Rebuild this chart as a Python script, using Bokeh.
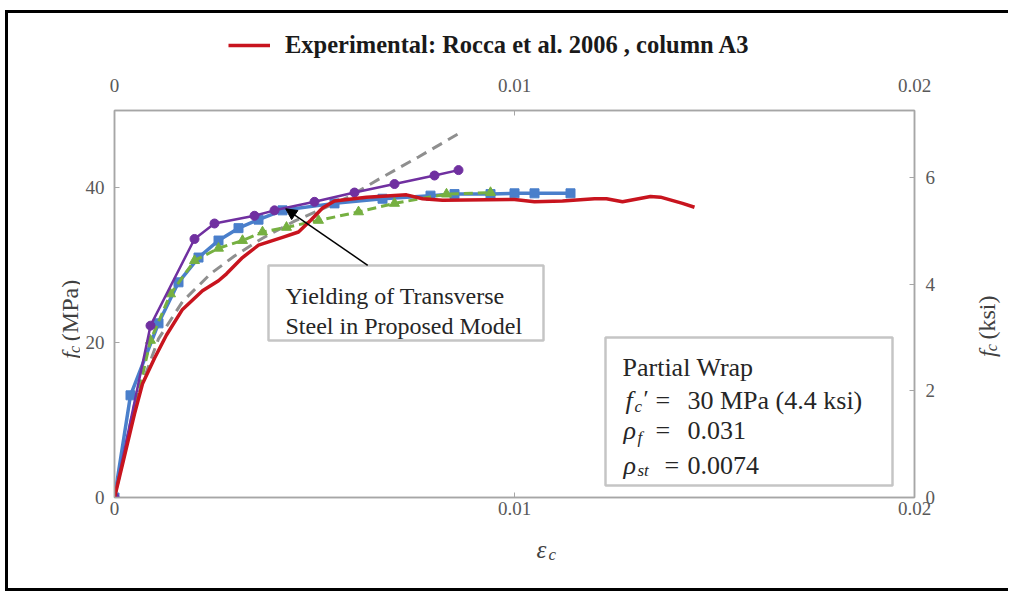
import math
from bokeh.plotting import figure
from bokeh.layouts import column, row
from bokeh.models import (Range1d, LinearAxis, FixedTicker, Legend, LegendItem, Label,
                          BoxAnnotation, Arrow, NormalHead)
from bokeh.embed import file_html
from bokeh.resources import INLINE

# ---------------- data ----------------
x_ticks = [0, 0.01, 0.02]
x_tick_labels = ["0", "0.01", "0.02"]
y_ticks_mpa = [0, 20, 40]
y_ticks_ksi = [0, 2, 4, 6]
MPA_PER_KSI = 6.895
Y_MAX_MPA = 50

exp_label = "Experimental: Rocca et al. 2006 , column A3"
exp_strain = [0, 0.0002, 0.0005, 0.0007, 0.001, 0.0013, 0.0017, 0.0022, 0.0026, 0.0028,
              0.0032, 0.0036, 0.0042, 0.0046, 0.0049, 0.0052, 0.0055, 0.0063, 0.0073,
              0.0077, 0.0082, 0.01, 0.0105, 0.0112, 0.012, 0.0123, 0.0127, 0.0134,
              0.01365, 0.0142, 0.0145]
exp_stress = [0, 4.3, 10.8, 14.7, 18.0, 21.0, 24.3, 26.7, 28.0, 28.9,
              31.0, 32.6, 33.6, 34.3, 35.8, 37.4, 38.3, 38.8, 39.1,
              38.6, 38.4, 38.5, 38.2, 38.3, 38.6, 38.6, 38.2, 38.9,
              38.8, 38.0, 37.5]

circle_strain = [0, 0.0009, 0.002, 0.0025, 0.0035, 0.004, 0.005, 0.006, 0.007, 0.008, 0.0086]
circle_stress = [0, 22.2, 33.4, 35.4, 36.4, 37.1, 38.2, 39.4, 40.5, 41.6, 42.3]

square_strain = [0, 0.0004, 0.0011, 0.0016, 0.0021, 0.0026, 0.0031, 0.0036, 0.0042,
                 0.0055, 0.0067, 0.0079, 0.0085, 0.0094, 0.01, 0.0105, 0.0114]
square_stress = [0, 13.2, 22.5, 27.8, 31.0, 33.2, 34.8, 35.9, 37.1,
                 38.0, 38.6, 39.0, 39.2, 39.2, 39.3, 39.3, 39.3]

triangle_strain = [0, 0.0009, 0.0014, 0.002, 0.0026, 0.0032, 0.0037, 0.0043, 0.0051,
                   0.0061, 0.007, 0.0083, 0.0094]
triangle_stress = [0, 20.3, 26.3, 30.6, 32.2, 33.2, 34.3, 34.9, 35.8,
                   36.9, 38.0, 39.2, 39.4]

dashed_strain = [0, 0.0005, 0.0011, 0.0017, 0.0024, 0.003, 0.0037, 0.0045, 0.0052,
                 0.0058, 0.0066, 0.0076, 0.0086]
dashed_stress = [0, 12.0, 20.5, 25.3, 28.9, 31.2, 33.5, 35.7, 37.3,
                 38.7, 41.1, 44.0, 47.0]

# ---------------- styles / layout ----------------
SERIF = "Liberation Serif"
RED = "#C8141E"
TITLE_C = "#404040"
BOX_C = "#262626"
OX, OY = 8, 13                 # page position of the layout's top-left corner
TOTAL_W = 1000
LEG_H = 54
LEFT_W, RIGHT_W = 72, 53
FL, FT, FR, FB = 114, 110, 914, 497   # page position of the plot frame
ROW_BOTTOM = 530
MAIN_H = ROW_BOTTOM - (OY + LEG_H)
BOTTOM_H = 58
MAIN_W = TOTAL_W - LEFT_W - RIGHT_W


def strip(w, h):
    f = figure(width=w, height=h, output_backend="svg", toolbar_location=None,
               x_range=Range1d(0, w), y_range=Range1d(0, h), min_border=0)
    f.axis.visible = False
    f.grid.visible = False
    f.outline_line_color = None
    return f


def text_on(fig, text, x, y, size, style="normal", angle=0.0, color="black", units="data"):
    fig.add_layout(Label(x=x, y=y, x_units=units, y_units=units, text=text,
                         text_font=SERIF, text_font_size=f"{size}px", text_font_style=style,
                         text_color=color, angle=angle, text_align="left",
                         text_baseline="alphabetic"))


# ---------------- legend strip (top) ----------------
lg = strip(TOTAL_W, LEG_H)
lg.x_range = Range1d(1, 2)     # keeps the proxy line out of view, only its legend swatch shows
legend_proxy = lg.line(exp_strain, exp_stress, line_color=RED, line_width=3.5)
lg.add_layout(Legend(items=[LegendItem(label=exp_label, renderers=[legend_proxy])],
                     location="bottom_center", orientation="horizontal",
                     border_line_color=None, background_fill_alpha=0,
                     label_text_font=SERIF, label_text_font_style="bold",
                     label_text_color="#1a1a1a", label_text_font_size="24.5px",
                     glyph_width=42, glyph_height=22, label_height=22, label_width=503,
                     label_standoff=15, padding=0, margin=8, spacing=0))

# ---------------- main chart ----------------
p = figure(width=MAIN_W, height=MAIN_H, x_range=Range1d(0, 0.02),
           y_range=Range1d(0, Y_MAX_MPA), output_backend="svg", toolbar_location=None,
           min_border_left=FL - (OX + LEFT_W), min_border_right=(OX + TOTAL_W - RIGHT_W) - FR,
           min_border_top=FT - (OY + LEG_H), min_border_bottom=ROW_BOTTOM - FB)
p.grid.visible = False
p.outline_line_color = "#A6A6A6"
p.outline_line_width = 1.5

p.extra_y_ranges = {"ksi": Range1d(0, Y_MAX_MPA / MPA_PER_KSI)}
p.add_layout(LinearAxis(y_range_name="ksi"), "right")
p.add_layout(LinearAxis(), "above")

for ax in p.axis:
    ax.axis_line_color = "#A6A6A6"
    ax.axis_line_width = 1.5
    ax.major_tick_line_color = "#A6A6A6"
    ax.major_tick_in = 5
    ax.major_tick_out = 0
    ax.minor_tick_line_color = None
    ax.major_label_text_font = SERIF
    ax.major_label_text_font_size = "19px"
    ax.major_label_text_color = "#595959"
for ax in p.below + p.above:
    ax.ticker = FixedTicker(ticks=x_ticks)
    ax.major_label_overrides = {t: s for t, s in zip(x_ticks, x_tick_labels)}
p.left[0].ticker = FixedTicker(ticks=y_ticks_mpa)
p.right[0].ticker = FixedTicker(ticks=y_ticks_ksi)
p.below[0].major_label_standoff = 4
p.above[0].major_label_standoff = 19
p.left[0].major_label_standoff = 10
p.right[0].major_label_standoff = 11

p.line(dashed_strain, dashed_stress, line_color="#8F8F8F", line_width=3, line_dash="11 7")
p.line(square_strain, square_stress, line_color="#4A7FCB", line_width=3.5)
p.scatter(square_strain, square_stress, marker="square", size=9, color="#4A7FCB")
p.line(triangle_strain, triangle_stress, line_color="#76B041", line_width=3, line_dash="9 5")
p.scatter(triangle_strain, triangle_stress, marker="triangle", size=10, color="#76B041")
p.line(circle_strain, circle_stress, line_color="#7030A0", line_width=2.5)
p.scatter(circle_strain, circle_stress, marker="circle", size=9, color="#7030A0")
p.line(exp_strain, exp_stress, line_color=RED, line_width=3.5, line_join="round")


def lab(text, xp, yp, size=24, style="normal", color=BOX_C):
    text_on(p, text, xp - FL, FB - yp, size, style, 0.0, color, units="screen")


def box(l, t, r, b):
    p.add_layout(BoxAnnotation(left=l - FL, right=r - FL, top=FB - t, bottom=FB - b,
                               left_units="screen", right_units="screen",
                               top_units="screen", bottom_units="screen",
                               fill_color="white", fill_alpha=1.0,
                               line_color="#3F3F3F", line_width=2.5))


# yielding annotation
box(268, 265, 543, 340)
lab("Yielding of Transverse", 285, 295, 24)
lab("Steel in Proposed Model", 285, 325, 24)
p.add_layout(Arrow(end=NormalHead(size=11, fill_color="black", line_color="black"),
                   x_start=0.00633, y_start=30.0, x_end=0.00428, y_end=37.3,
                   line_color="black", line_width=1.5))

# properties box
box(605, 337, 892, 485)
lab("Partial Wrap", 622, 367, 26)
lab("f", 625, 400, 26, "italic")
lab("c", 634, 406, 17, "italic")
lab("\u2032", 643, 397, 24)
lab("=", 655, 400, 26)
lab("30 MPa (4.4 ksi)", 687, 400, 26)
lab("\u03c1", 623, 430, 26, "italic")
lab("f", 637, 437, 17, "italic")
lab("=", 655, 430, 26)
lab("0.031", 687, 430, 26)
lab("\u03c1", 623, 465, 26, "italic")
lab("st", 637, 470, 17, "italic")
lab("=", 664, 465, 26)
lab("0.0074", 687, 465, 26)

# ---------------- axis-title strips ----------------
up = math.pi / 2

left_strip = strip(LEFT_W, MAIN_H)
lx0 = OX
text_on(left_strip, "f", 69 - lx0, ROW_BOTTOM - 364, 24, "italic", up, TITLE_C)
text_on(left_strip, "c", 74 - lx0, ROW_BOTTOM - 357, 16, "italic", up, TITLE_C)
text_on(left_strip, "(MPa)", 69 - lx0, ROW_BOTTOM - 343, 24, "normal", up, TITLE_C)

right_strip = strip(RIGHT_W, MAIN_H)
rx0 = OX + LEFT_W + MAIN_W
text_on(right_strip, "f", 986 - rx0, ROW_BOTTOM - 362, 24, "italic", up, TITLE_C)
text_on(right_strip, "c", 991 - rx0, ROW_BOTTOM - 355, 16, "italic", up, TITLE_C)
text_on(right_strip, "(ksi)", 986 - rx0, ROW_BOTTOM - 341, 24, "normal", up, TITLE_C)

bottom_strip = strip(TOTAL_W, BOTTOM_H)
bottom_edge = ROW_BOTTOM + BOTTOM_H
text_on(bottom_strip, "\u03b5", 536 - OX, bottom_edge - 549, 25, "italic", 0.0, TITLE_C)
text_on(bottom_strip, "c", 548 - OX, bottom_edge - 554, 17, "italic", 0.0, TITLE_C)

page = column(lg, row(left_strip, p, right_strip, spacing=0), bottom_strip, spacing=0,
              styles={"margin-left": "5px", "margin-top": "10px",
                      "border-left": "3px solid black", "border-top": "3px solid black",
                      "border-bottom": "3px solid black"})

open("out.html", "w").write(file_html(page, INLINE))
